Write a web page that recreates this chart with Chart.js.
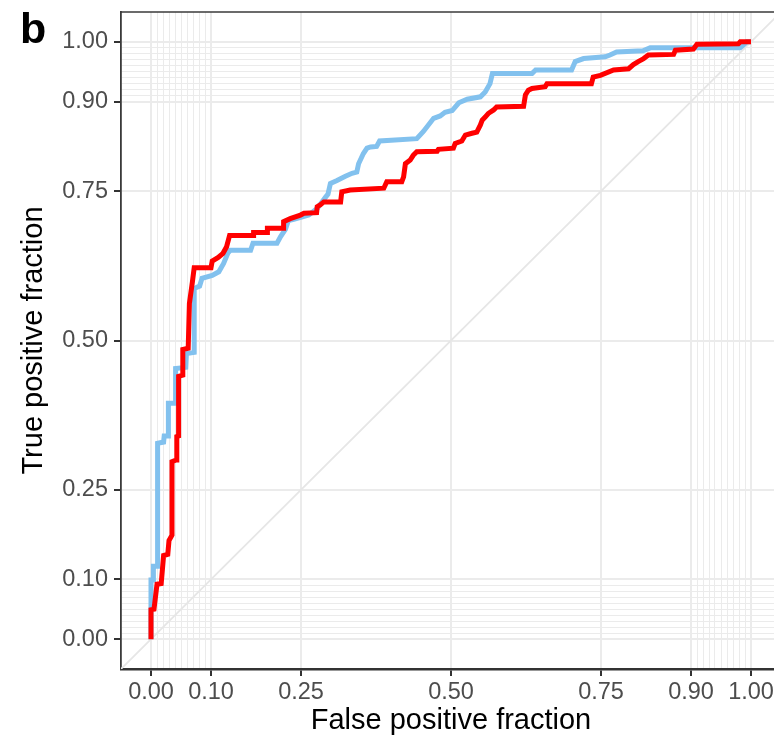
<!DOCTYPE html>
<html>
<head>
<meta charset="utf-8">
<title>ROC curves</title>
<script src="https://cdn.jsdelivr.net/npm/chart.js@4.4.1/dist/chart.umd.min.js"></script>
<style>
  html, body { margin: 0; padding: 0; background: #ffffff; overflow: hidden; }
  #wrap { position: relative; width: 774px; height: 743px; overflow: hidden; }
  #roc { position: absolute; left: 0; top: 0; }
</style>
</head>
<body>
<div id="wrap">
  <canvas id="roc" width="800" height="743"></canvas>
</div>
<script>
// axis breaks: labelled ones plus the fine 0.01 steps near both ends
const majorTicks = [0, 0.1, 0.25, 0.5, 0.75, 0.9, 1];
const minorTicks = [0.01, 0.02, 0.03, 0.04, 0.05, 0.06, 0.07, 0.08, 0.09,
                    0.91, 0.92, 0.93, 0.94, 0.95, 0.96, 0.97, 0.98, 0.99];
const axisRange = [-0.05, 1.05];

// light blue curve
const blueFpf = [0, 0, 0.004, 0.004, 0.011, 0.011, 0.021, 0.022, 0.029, 0.029, 0.040, 0.041,
  0.058, 0.059, 0.072, 0.072, 0.081, 0.085, 0.102, 0.113, 0.121, 0.128, 0.132, 0.166, 0.170,
  0.210, 0.216, 0.224, 0.229, 0.238, 0.263, 0.277, 0.285, 0.291, 0.295, 0.299, 0.310, 0.324,
  0.335, 0.343, 0.346, 0.354, 0.360, 0.366, 0.376, 0.381, 0.443, 0.454, 0.471, 0.482, 0.490,
  0.502, 0.513, 0.527, 0.549, 0.557, 0.565, 0.569, 0.635, 0.641, 0.701, 0.707, 0.721, 0.757,
  0.765, 0.776, 0.820, 0.832, 0.982, 0.993, 1.0];
const blueTpf = [0, 0.099, 0.099, 0.122, 0.122, 0.328, 0.330, 0.340, 0.340, 0.395, 0.395, 0.453,
  0.455, 0.478, 0.480, 0.587, 0.591, 0.604, 0.609, 0.615, 0.629, 0.646, 0.651, 0.651, 0.663,
  0.663, 0.674, 0.686, 0.701, 0.703, 0.710, 0.721, 0.732, 0.740, 0.745, 0.763, 0.768, 0.775,
  0.780, 0.782, 0.796, 0.813, 0.822, 0.824, 0.825, 0.834, 0.838, 0.850, 0.872, 0.876, 0.882,
  0.885, 0.898, 0.904, 0.908, 0.916, 0.930, 0.947, 0.947, 0.953, 0.953, 0.967, 0.972, 0.975,
  0.978, 0.983, 0.985, 0.990, 0.990, 1.0, 1.0];

// red curve
const redFpf = [0, 0, 0.005, 0.010, 0.017, 0.021, 0.028, 0.030, 0.035, 0.035, 0.042, 0.043,
  0.046, 0.046, 0.053, 0.053, 0.062, 0.064, 0.069, 0.072, 0.100, 0.102, 0.112, 0.120, 0.126,
  0.131, 0.171, 0.171, 0.194, 0.194, 0.221, 0.221, 0.232, 0.249, 0.255, 0.276, 0.277, 0.282,
  0.288, 0.316, 0.318, 0.332, 0.388, 0.393, 0.418, 0.421, 0.424, 0.432, 0.437, 0.443, 0.477,
  0.479, 0.504, 0.507, 0.518, 0.524, 0.535, 0.543, 0.549, 0.552, 0.557, 0.562, 0.571, 0.576,
  0.621, 0.624, 0.629, 0.635, 0.657, 0.660, 0.734, 0.737, 0.749, 0.771, 0.796, 0.804, 0.812,
  0.821, 0.829, 0.871, 0.874, 0.904, 0.910, 0.979, 0.982, 1.0];
const redTpf = [0, 0.049, 0.050, 0.092, 0.093, 0.140, 0.142, 0.165, 0.174, 0.297, 0.300, 0.339,
  0.340, 0.440, 0.442, 0.485, 0.487, 0.562, 0.598, 0.622, 0.622, 0.633, 0.639, 0.646, 0.657,
  0.676, 0.676, 0.681, 0.681, 0.688, 0.688, 0.699, 0.704, 0.710, 0.713, 0.714, 0.724, 0.727,
  0.732, 0.732, 0.749, 0.752, 0.755, 0.766, 0.766, 0.774, 0.796, 0.802, 0.810, 0.816, 0.817,
  0.820, 0.822, 0.830, 0.834, 0.844, 0.847, 0.849, 0.861, 0.869, 0.874, 0.880, 0.886, 0.891,
  0.892, 0.911, 0.919, 0.922, 0.925, 0.930, 0.930, 0.941, 0.944, 0.953, 0.955, 0.962, 0.967,
  0.972, 0.978, 0.979, 0.986, 0.988, 0.996, 0.997, 1.0, 1.0];

const FONT = '"Liberation Sans", Arial, Helvetica, sans-serif';
const allTicks = majorTicks.concat(minorTicks).sort((a, b) => a - b);
const isMajor = v => majorTicks.some(m => Math.abs(m - v) < 1e-9);

function toPoints(xs, ys) {
  return xs.map((x, i) => ({ x: x, y: ys[i] }));
}

function axis(title, isX) {
  return {
    type: 'linear',
    min: axisRange[0],
    max: axisRange[1],
    afterBuildTicks: s => { s.ticks = allTicks.map(v => ({ value: v })); },
    afterFit: s => {
      // fixed panel margins, no extra room for edge labels
      if (isX) s.height = 74; else s.width = 121;
      s.paddingTop = 0; s.paddingBottom = 0;
      s.paddingLeft = 0; s.paddingRight = 0;
    },
    grid: {
      color: '#ebebeb',
      lineWidth: c => isMajor(c.tick.value) ? 2 : 1,
      tickColor: c => isMajor(c.tick.value) ? '#333333' : 'rgba(0,0,0,0)',
      tickWidth: 2,
      tickLength: 7
    },
    border: { color: isX ? '#333333' : '#3a3a3a', width: isX ? 2.5 : 1.8 },
    ticks: {
      autoSkip: false,
      maxRotation: 0,
      padding: isX ? 2 : 6,
      color: '#4d4d4d',
      font: { family: FONT, size: 23.5 },
      callback: v => isMajor(v) ? Number(v).toFixed(2) : ''
    },
    title: {
      display: true,
      text: title,
      color: '#000000',
      font: { family: FONT, size: 29 },
      padding: isX ? { top: 0, bottom: 5 } : { top: 17, bottom: 0 }
    }
  };
}

// top edge of the panel and the panel letter
const panelFrame = {
  id: 'panelFrame',
  afterDraw(chart) {
    const { ctx, chartArea } = chart;
    ctx.save();
    ctx.strokeStyle = '#3a3a3a';
    ctx.lineWidth = 1.5;
    ctx.beginPath();
    ctx.moveTo(chartArea.left, chartArea.top);
    ctx.lineTo(chartArea.right, chartArea.top);
    ctx.stroke();
    ctx.fillStyle = '#000000';
    ctx.font = 'bold 43px ' + FONT;
    ctx.textAlign = 'left';
    ctx.textBaseline = 'alphabetic';
    ctx.fillText('b', 20, 43);
    ctx.restore();
  }
};

new Chart(document.getElementById('roc'), {
  type: 'scatter',
  data: {
    datasets: [
      {
        label: 'red',
        data: toPoints(redFpf, redTpf),
        showLine: true,
        borderColor: '#ff0000',
        borderWidth: 5,
        borderJoinStyle: 'miter',
        pointRadius: 0,
        tension: 0
      },
      {
        label: 'blue',
        data: toPoints(blueFpf, blueTpf),
        showLine: true,
        borderColor: '#82c1ee',
        borderWidth: 5,
        borderJoinStyle: 'miter',
        pointRadius: 0,
        tension: 0
      },
      {
        label: 'reference',
        data: toPoints(axisRange, axisRange),
        showLine: true,
        borderColor: '#e6e6e6',
        borderWidth: 1.8,
        pointRadius: 0
      }
    ]
  },
  options: {
    responsive: false,
    animation: false,
    devicePixelRatio: 1,
    layout: { padding: { top: 12, right: 19, bottom: 0, left: 0 } },
    plugins: { legend: { display: false }, tooltip: { enabled: false } },
    scales: {
      x: axis('False positive fraction', true),
      y: axis('True positive fraction', false)
    }
  },
  plugins: [panelFrame]
});
</script>
</body>
</html>
